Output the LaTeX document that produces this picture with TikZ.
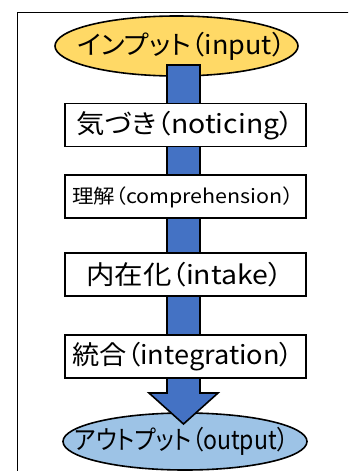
\documentclass[tikz,border=0pt]{standalone}
\usepackage{graphicx}
\usepackage{fontspec}
\setmainfont{Noto Sans CJK JP}[RawFeature=+palt]
\usetikzlibrary{shapes.geometric}
\definecolor{inyellow}{HTML}{FFD966}
\definecolor{barblue}{HTML}{4472C4}
\definecolor{outblue}{HTML}{9DC3E6}
\newcommand\fitw[2]{\resizebox{#1}{\height}{#2}}
\tikzset{
  stagebox/.style={draw=black, line width=1.6pt, fill=white, minimum width=241pt, minimum height=43pt, inner sep=0pt},
  endell/.style={ellipse, draw=black, line width=1.6pt, inner sep=0pt},
  mainfont/.style={font=\fontsize{26}{30}\selectfont, inner sep=0pt},
  smallfont/.style={font=\fontsize{19.5}{23}\selectfont, inner sep=0pt},
}
\begin{document}
\begin{tikzpicture}[x=1pt,y=-1pt]
\useasboundingbox (0,0) rectangle (348,471);
\clip (0,0) rectangle (348,471);
% frame
\draw[line width=1pt] (17,12) rectangle (360,490);
% end nodes
\node[endell, fill=inyellow, minimum width=243pt, minimum height=60pt] (input) at (176.5,46) {};
\node[mainfont] (inputtext) at (181.5,46) {\fitw{208pt}{インプット（input）}};
\node[endell, fill=outblue, minimum width=244pt, minimum height=57pt] (output) at (185,441.5) {};
% block arrow
\coordinate (atop) at (183.5,65);
\coordinate (atip) at (183.5,424);
\draw[line width=1.6pt, fill=barblue, line join=miter]
  ([xshift=-16.5pt]atop) -- ([xshift=-16.5pt]atip |- 0,393) -- ([xshift=-34.5pt]atip |- 0,393)
  -- (atip) -- ([xshift=34.5pt]atip |- 0,393) -- ([xshift=16.5pt]atip |- 0,393)
  -- ([xshift=16.5pt]atop) -- cycle;
\node[mainfont] (outputtext) at (181.5,441.5) {\fitw{214pt}{アウトプット（output）}};
% stages
\node[stagebox] (notice) at (185.5,125) {};
\node[mainfont] (noticetext) at (185,126) {\fitw{217pt}{気づき（noticing）}};
\node[stagebox] (compr) at (185.5,196.5) {};
\node[smallfont] (comprtext) at (183,197) {\fitw{221pt}{理解（comprehension）}};
\node[stagebox] (intake) at (185.5,274.5) {};
\node[mainfont] (intaketext) at (184.5,275) {\fitw{196pt}{内在化（intake）}};
\node[stagebox] (integ) at (185.5,356.5) {};
\node[mainfont] (integtext) at (183,357) {\fitw{221pt}{統合（integration）}};
\end{tikzpicture}
\end{document}
